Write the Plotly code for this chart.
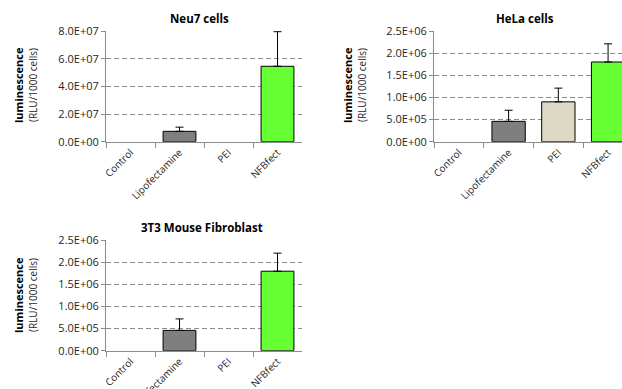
import plotly.graph_objects as go

W, H = 622, 389

categories = ["Control", "Lipofectamine", "PEI", "NFBfect"]
bar_colors = ["#FFFFFF", "#7F7F7F", "#DDD9C4", "#66FF33"]

neu7_values = [None, 7.5e6, None, 5.45e7]
neu7_errors = [0, 3.0e6, 0, 2.5e7]
hela_values = [None, 4.6e5, 9.0e5, 1.8e6]
hela_errors = [0, 2.5e5, 3.1e5, 4.1e5]
t3_values = [None, 4.6e5, None, 1.8e6]
t3_errors = [0, 2.6e5, 0, 4.1e5]

neu7_ticks = [0, 2e7, 4e7, 6e7, 8e7]
neu7_ticktext = ["0.0E+00", "2.0E+07", "4.0E+07", "6.0E+07", "8.0E+07"]
small_ticks = [0, 5e5, 1e6, 1.5e6, 2e6, 2.5e6]
small_ticktext = ["0.0E+00", "5.0E+05", "1.0E+06", "1.5E+06", "2.0E+06", "2.5E+06"]

titles = ["Neu7 cells", "HeLa cells", "3T3 Mouse Fibroblast"]
ytitle_bold = "luminescence"
ytitle_norm = "(RLU/1000 cells)"


def px(x):
    return x / W


def py(y):
    return 1 - y / H


FONT = "Open Sans"
GRID = "#8C8C8C"
TXT = "#262626"

fig = go.Figure()

panels = [
    dict(vals=neu7_values, errs=neu7_errors, xa="x", ya="y"),
    dict(vals=hela_values, errs=hela_errors, xa="x2", ya="y2"),
    dict(vals=t3_values, errs=t3_errors, xa="x3", ya="y3"),
]
for p in panels:
    fig.add_trace(go.Bar(
        x=categories, y=p["vals"], xaxis=p["xa"], yaxis=p["ya"],
        width=0.67,
        marker=dict(color=bar_colors, line=dict(color="#000000", width=1)),
        error_y=dict(type="data", array=p["errs"], arrayminus=[0] * 4,
                     symmetric=False, color="#000000", thickness=1, width=4),
        showlegend=False,
    ))

def xaxis(domain, rng, anchor):
    return dict(domain=domain, anchor=anchor, range=rng, type="category",
                automargin=False,
                showline=True, linecolor=GRID, linewidth=1,
                ticks="outside", tickson="boundaries", ticklen=5, tickcolor=GRID,
                tickangle=-45, showgrid=False, zeroline=False,
                tickfont=dict(family=FONT, size=10, color=TXT))

def yaxis(domain, rng, tv, tt, anchor):
    return dict(domain=domain, anchor=anchor, range=rng, tickvals=tv, ticktext=tt,
                automargin=False,
                showline=True, linecolor=GRID, linewidth=1,
                ticks="outside", ticklen=4, tickcolor=GRID,
                showgrid=True, gridcolor=GRID, griddash="5px,3px", gridwidth=1,
                zeroline=False, tickfont=dict(family=FONT, size=11, color=TXT))

d1x = [px(106), px(302)]
d2x = [px(434), 1.0]
dTop = [py(141.7), py(31)]
dBot = [py(350.7), py(240.3)]

fig.update_layout(
    width=W, height=H, margin=dict(l=0, r=0, t=0, b=0, autoexpand=False),
    paper_bgcolor="white", plot_bgcolor="white",
    bargap=0.33,
    xaxis=xaxis(d1x, [-0.5, 3.5], "y"),
    yaxis=yaxis(dTop, [0, 8e7], neu7_ticks, neu7_ticktext, "x"),
    xaxis2=xaxis(d2x, [-0.5, 3.28], "y2"),
    yaxis2=yaxis(dTop, [0, 2.5e6], small_ticks, small_ticktext, "x2"),
    xaxis3=xaxis(d1x, [-0.5, 3.5], "y3"),
    yaxis3=yaxis(dBot, [0, 2.5e6], small_ticks, small_ticktext, "x3"),
)

ann = []
title_pos = [(199, 18), (525, 18), (202, 227)]
for t, (x, y) in zip(titles, title_pos):
    ann.append(dict(text="<b>%s</b>" % t, x=px(x), y=py(y), xref="paper", yref="paper",
                    showarrow=False, xanchor="center", yanchor="middle",
                    font=dict(family=FONT, size=11.5, color="#000000")))

ytitle_pos = [(18, 33, 85), (347, 362, 85), (18, 33, 295)]
for xb, xn, yc in ytitle_pos:
    ann.append(dict(text="<b>%s</b>" % ytitle_bold, x=px(xb), y=py(yc), xref="paper", yref="paper",
                    showarrow=False, textangle=-90, xanchor="center", yanchor="middle",
                    font=dict(family=FONT, size=11, color="#000000")))
    ann.append(dict(text=ytitle_norm, x=px(xn), y=py(yc), xref="paper", yref="paper",
                    showarrow=False, textangle=-90, xanchor="center", yanchor="middle",
                    font=dict(family=FONT, size=10, color=TXT)))
fig.update_layout(annotations=ann)

fig.write_html("out.html")
